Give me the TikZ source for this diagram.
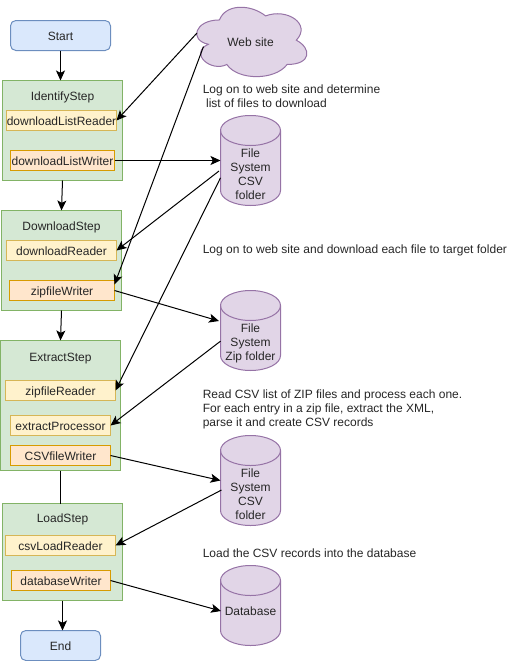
\documentclass[tikz,border=0pt]{standalone}
\usepackage{fontspec}
\setmainfont{Liberation Sans}
\usetikzlibrary{arrows.meta}
\definecolor{endfill}{HTML}{DAE8FC}
\definecolor{endline}{HTML}{6C8EBF}
\definecolor{stepfill}{HTML}{D5E8D4}
\definecolor{stepline}{HTML}{82B366}
\definecolor{readfill}{HTML}{FFF2CC}
\definecolor{readline}{HTML}{D6B656}
\definecolor{writefill}{HTML}{FFE6CC}
\definecolor{writeline}{HTML}{D79B00}
\definecolor{storefill}{HTML}{E1D5E7}
\definecolor{storeline}{HTML}{9673A6}
\tikzset{
    basebox/.style={draw, line width=0.75pt, inner sep=0pt, outer sep=0pt, text=black!85,
        font=\fontsize{9}{10.5}\selectfont, text height=7.5pt, text depth=0pt},
    endbox/.style={basebox, rounded corners=4pt, fill=endfill, draw=endline, minimum height=22.5pt},
    stepbox/.style={basebox, fill=stepfill, draw=stepline, minimum width=90pt},
    readbox/.style={basebox, fill=readfill, draw=readline, minimum height=15pt},
    writebox/.style={basebox, fill=writefill, draw=writeline, minimum height=15pt},
    storebox/.style={inner sep=0pt, outer sep=0pt, minimum width=45pt},
    storeshape/.style={line width=0.75pt, draw=storeline, fill=storefill},
    steptitle/.style={inner sep=0pt, text=black!85, font=\fontsize{9}{10.5}\selectfont,
        text height=7.5pt, text depth=0pt},
    storetitle/.style={inner sep=0pt, text=black!85, font=\fontsize{9}{10.5}\selectfont, align=center},
    note/.style={storetitle, align=left, anchor=west},
    flow/.style={->, line width=0.75pt}
}
\begin{document}
\begin{tikzpicture}[x=0.75pt, y=-0.75pt, >={Stealth[length=7.5pt,width=6.75pt,inset=1.75pt]}]
    \useasboundingbox (0,0) rectangle (521,661);
    % Start and end
    \node[endbox, minimum width=75pt] (start) at (60.5,35.5) {Start};
    \node[endbox, minimum width=60pt] (end) at (60.5,645.5) {End};
    % The four steps
    \foreach \name/\cx/\cy/\hgt/\txt/\ty in {
        identifystep/62.5/130.5/100/IdentifyStep/95.5,
        downloadstep/61.5/260.5/100/DownloadStep/225,
        extractstep/60.5/405.5/130/ExtractStep/356.5,
        loadstep/62.5/552/97/LoadStep/517.5} {
        \node[stepbox, minimum height=\hgt*0.75pt] (\name) at (\cx,\cy) {};
        \node[steptitle] (\name title) at (\cx,\ty) {\txt};
    }
    % Readers and processor
    \foreach \name/\cx/\cy/\wdt/\txt in {
        listreader/61.5/120.5/110/downloadListReader,
        downloadreader/61.5/250.5/110/downloadReader,
        zipreader/60.5/390.5/110/zipfileReader,
        extractor/60.5/425.5/100/extractProcessor,
        csvreader/60.5/545.5/110/csvLoadReader} {
        \node[readbox, minimum width=\wdt*0.75pt] (\name) at (\cx,\cy) {\txt};
    }
    % Writers
    \foreach \name/\cx/\cy/\wdt/\txt in {
        listwriter/62.5/160.5/104/downloadListWriter,
        zipwriter/62/290.5/105/zipfileWriter,
        csvwriter/60.5/455.5/100/CSVfileWriter,
        dbwriter/61/580.5/99/databaseWriter} {
        \node[writebox, minimum width=\wdt*0.75pt] (\name) at (\cx,\cy) {\txt};
    }
    % Web site cloud
    \draw[line width=0.75pt, draw=storeline, fill=storefill, shift={(188.7,-0.3)}, x=92.25pt, y=-60.75pt]
        (0.25,0.25) .. controls (0.05,0.25) and (0,0.5) .. (0.16,0.55)
        .. controls (0,0.66) and (0.18,0.9) .. (0.31,0.8)
        .. controls (0.4,1) and (0.7,1) .. (0.8,0.8)
        .. controls (1,0.8) and (1,0.6) .. (0.875,0.5)
        .. controls (1,0.3) and (0.8,0.1) .. (0.625,0.2)
        .. controls (0.5,0.05) and (0.3,0.05) .. (0.25,0.25) -- cycle;
    \node[steptitle] (website) at (250.5,41) {Web site};
    \coordinate (webleft) at (197,33);
    \coordinate (weblow) at (203.5,46.5);
    % Stores
    \foreach \name/\cy/\hgt in {
        csvstore/160.5/90,
        zipstore/330.5/80,
        outstore/480.5/90,
        dbstore/605.5/80} {
        \node[storebox, minimum height=\hgt*0.75pt] (\name) at (250.5,\cy) {};
        \draw[storeshape] ([yshift=-11.25pt]\name.north west)
            arc[start angle=180, end angle=0, x radius=22.5pt, y radius=11.25pt]
            -- ([yshift=11.25pt]\name.south east)
            arc[start angle=0, end angle=-180, x radius=22.5pt, y radius=11.25pt] -- cycle;
        \draw[storeshape, fill=none] ([yshift=-11.25pt]\name.north west)
            arc[start angle=180, end angle=360, x radius=22.5pt, y radius=11.25pt];
    }
    \node[storetitle] (csvstoretitle) at (250.5,174) {File\\System\\CSV\\folder};
    \node[storetitle] (zipstoretitle) at (250.5,343) {File\\System\\Zip folder};
    \node[storetitle] (outstoretitle) at (250.5,494) {File\\System\\CSV\\folder};
    \node[storetitle] (dbstoretitle) at (250.5,611) {Database};
    % Notes
    \node[note] (noteone) at (202.5,96.5) {Log on to web site and determine\\\hspace*{2.5pt}list of files to download};
    \node[note] (notetwo) at (202.5,250) {Log on to web site and download each file to target folder};
    \node[note] (notethree) at (202.5,409) {Read CSV list of ZIP files and process each one.\\For each entry in a zip file, extract the XML,\\parse it and create CSV records};
    \node[note] (notefour) at (202.5,553) {Load the CSV records into the database};
    % Step order
    \draw[flow] (start.south) -- (start.south |- identifystep.north);
    \draw[flow] (identifystep.south) -- (downloadstep.north);
    \draw[flow] (downloadstep.south) -- (extractstep.north);
    \draw[line width=0.75pt] (extractstep.south) -- (extractstep.south |- loadstep.north);
    \draw[flow] (loadstep.south) -- (loadstep.south |- end.north);
    % Data flow
    \draw[flow] (webleft) -- (listreader.east);
    \draw[flow] (weblow) -- ([yshift=-3pt]zipwriter.north east);
    \draw[flow] (listwriter.east) -- (csvstore.west);
    \draw[flow] ([shift={(-1.5,10.5)}]csvstore.west) -- (downloadreader.east);
    \draw[flow] ([yshift=-13pt]csvstore.west) -- (zipreader.east);
    \draw[flow] (zipwriter.east) -- ([shift={(-1.5,-9.5)}]zipstore.west);
    \draw[flow] ([yshift=-8pt]zipstore.west) -- (extractor.east);
    \draw[flow] (csvwriter.east) -- (outstore.west);
    \draw[flow] ([shift={(1,9.5)}]outstore.west) -- (csvreader.east);
    \draw[flow] (dbwriter.east) -- ([shift={(0.5,5.5)}]dbstore.west);
\end{tikzpicture}
\end{document}
